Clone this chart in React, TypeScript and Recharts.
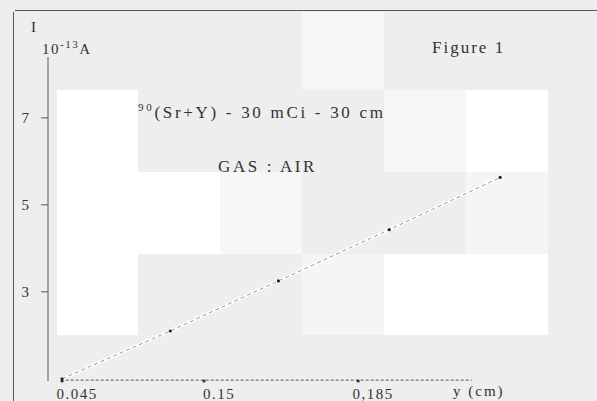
import { LineChart, Line, XAxis, YAxis, ReferenceLine } from 'recharts';

// distance y (cm) vs ionisation current I (10^-13 A)
const distance = [0.045, 0.125, 0.205, 0.287, 0.369];
const current = [1.0, 2.1, 3.25, 4.43, 5.63];

const xTicks = [0.045, 0.15, 0.264];
const xTickLabels = ['0.045', '0.15', '0,185'];
const yTicks = [3, 5, 7];

const data = distance.map((d, i) => ({ y: d, i: current[i] }));

// scan background blocks (left, top, width, height, colour)
const blocks: [number, number, number, number, string][] = [
  [302, 12, 82, 78, '#f6f6f6'],
  [57, 90, 81, 245, '#ffffff'],
  [384, 90, 82, 82, '#f6f6f6'],
  [466, 90, 82, 82, '#ffffff'],
  [138, 172, 82, 82, '#ffffff'],
  [220, 172, 82, 82, '#f7f7f7'],
  [466, 172, 82, 82, '#f5f5f5'],
  [302, 254, 82, 81, '#f5f5f5'],
  [384, 254, 164, 81, '#ffffff'],
];

const serif = '"Liberation Serif", "DejaVu Serif", serif';

const XTick = (props: any) => {
  const { x, y, payload, index } = props;
  return (
    <g>
      <circle cx={x} cy={y} r={1.6} fill="#333" />
      <text x={x + 15} y={y + 18} textAnchor="middle" fontFamily={serif} fontSize={15} fill="#333" letterSpacing={1.5}>
        {xTickLabels[index] ?? payload.value}
      </text>
    </g>
  );
};

const App = () => {
  return (
    <div style={{ position: 'relative', width: 597, height: 401, background: '#eeeeee', overflow: 'hidden', fontFamily: serif, color: '#333' }}>
      <style>{'body{margin:0}'}</style>
      {blocks.map(([l, t, w, h, c], k) => (
        <div key={k} style={{ position: 'absolute', left: l, top: t, width: w, height: h, background: c }} />
      ))}
      <div style={{ position: 'absolute', left: 15, top: 10, width: 582, height: 1, background: '#555' }} />
      <div style={{ position: 'absolute', left: 13, top: 12, width: 1, height: 389, background: '#555' }} />

      <div style={{ position: 'absolute', left: 0, top: 0 }}>
        <LineChart width={597} height={401} data={data} margin={{ top: 57, right: 77, bottom: 0, left: 8 }}>
          <XAxis
            dataKey="y"
            type="number"
            domain={[0.0346, 0.3837]}
            allowDataOverflow
            ticks={xTicks}
            axisLine={false}
            tickLine={false}
            tickSize={0}
            tickMargin={0}
            height={20}
            tick={<XTick />}
            interval={0}
          />
          <YAxis
            type="number"
            domain={[0.95, 8.4]}
            allowDataOverflow
            ticks={yTicks}
            width={40}
            tickSize={7}
            tickMargin={12}
            axisLine={{ stroke: '#555' }}
            tickLine={{ stroke: '#555' }}
            tick={{ fontFamily: serif, fontSize: 15, fill: '#333' }}
          />
          <ReferenceLine
            segment={[{ x: 0.044, y: 0.97 }, { x: 0.348, y: 0.97 }]}
            stroke="#555"
            strokeDasharray="3 2"
            ifOverflow="visible"
          />
          <Line dataKey="i" stroke="#ffffff" strokeWidth={3} dot={false} isAnimationActive={false} />
          <Line
            dataKey="i"
            stroke="#999999"
            strokeWidth={1}
            strokeDasharray="4 3"
            dot={{ r: 1.6, fill: '#222', stroke: 'none' }}
            isAnimationActive={false}
          />
        </LineChart>
      </div>

      <div style={{ position: 'absolute', left: 31, top: 19, fontSize: 15 }}>I</div>
      <div style={{ position: 'absolute', left: 42, top: 38, fontSize: 15, letterSpacing: 1.5 }}>
        10<sup style={{ fontSize: 11 }}>-13</sup>A
      </div>
      <div style={{ position: 'absolute', left: 432, top: 38, fontSize: 17, letterSpacing: 2 }}>Figure 1</div>
      <div style={{ position: 'absolute', left: 138, top: 101, fontSize: 17, letterSpacing: 2.7, whiteSpace: 'nowrap' }}>
        <sup style={{ fontSize: 11 }}>90</sup>(Sr+Y) - 30 mCi - 30 cm
      </div>
      <div style={{ position: 'absolute', left: 218, top: 157, fontSize: 17, letterSpacing: 2.6 }}>GAS : AIR</div>
      <div style={{ position: 'absolute', left: 453, top: 383, fontSize: 15, letterSpacing: 2 }}>y (cm)</div>
    </div>
  );
};

export default App;
